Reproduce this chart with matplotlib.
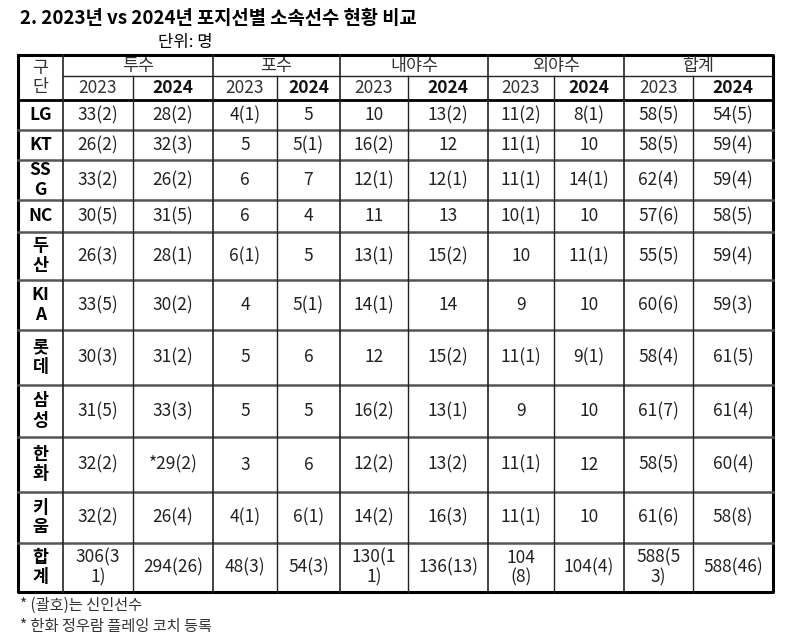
import matplotlib
matplotlib.use("Agg")
import matplotlib.pyplot as plt

plt.rcParams['font.family'] = ['Noto Sans CJK KR', 'DejaVu Sans']

title = "2. 2023년 vs 2024년 포지선별 소속선수 현황 비교"
unit = "단위: 명"
positions = ["투수", "포수", "내야수", "외야수", "합계"]
years = ["2023", "2024"]
teams = ["LG", "KT", "SS\nG", "NC", "두\n산", "KI\nA", "롯\n데", "삼\n성", "한\n화", "키\n움", "합\n계"]
values = [
    ["33(2)", "28(2)", "4(1)", "5", "10", "13(2)", "11(2)", "8(1)", "58(5)", "54(5)"],
    ["26(2)", "32(3)", "5", "5(1)", "16(2)", "12", "11(1)", "10", "58(5)", "59(4)"],
    ["33(2)", "26(2)", "6", "7", "12(1)", "12(1)", "11(1)", "14(1)", "62(4)", "59(4)"],
    ["30(5)", "31(5)", "6", "4", "11", "13", "10(1)", "10", "57(6)", "58(5)"],
    ["26(3)", "28(1)", "6(1)", "5", "13(1)", "15(2)", "10", "11(1)", "55(5)", "59(4)"],
    ["33(5)", "30(2)", "4", "5(1)", "14(1)", "14", "9", "10", "60(6)", "59(3)"],
    ["30(3)", "31(2)", "5", "6", "12", "15(2)", "11(1)", "9(1)", "58(4)", "61(5)"],
    ["31(5)", "33(3)", "5", "5", "16(2)", "13(1)", "9", "10", "61(7)", "61(4)"],
    ["32(2)", "*29(2)", "3", "6", "12(2)", "13(2)", "11(1)", "12", "58(5)", "60(4)"],
    ["32(2)", "26(4)", "4(1)", "6(1)", "14(2)", "16(3)", "11(1)", "10", "61(6)", "58(8)"],
    ["306(3\n1)", "294(26)", "48(3)", "54(3)", "130(1\n1)", "136(13)", "104\n(8)", "104(4)", "588(5\n3)", "588(46)"],
]
notes = ["* (괄호)는 신인선수", "* 한화 정우람 플레잉 코치 등록"]

W, H = 800, 642
fig = plt.figure(figsize=(8, 6.42), dpi=100)
ax = fig.add_axes([0, 0, 1, 1])
ax.set_xlim(0, W); ax.set_ylim(H, 0); ax.axis('off')

xs = [18, 63, 133, 213, 277, 340, 408, 488, 554, 624, 693, 773]
ys = [55, 76, 100, 130, 160, 200, 232, 280, 330, 385, 437, 492, 543, 592]
fs = 12.5

ax.text(20, 18, title, fontsize=13.5, fontweight='bold', va='center', ha='left')
ax.text(158, 42, unit, fontsize=12, va='center', ha='left')

lc = '#222222'
ax.plot([xs[0], xs[-1], xs[-1], xs[0], xs[0]], [ys[0], ys[0], ys[-1], ys[-1], ys[0]], color='black', lw=2.2)
ax.plot([xs[1], xs[-1]], [ys[1], ys[1]], color=lc, lw=1.0)
ax.plot([xs[0], xs[-1]], [ys[2], ys[2]], color='black', lw=2.0)
for y in ys[3:-1]:
    ax.plot([xs[0], xs[-1]], [y, y], color='#555555', lw=1.8)
for i, x in enumerate(xs[1:-1], start=1):
    if i % 2 == 1:
        ax.plot([x, x], [ys[0], ys[-1]], color=lc, lw=1.2)
    else:
        ax.plot([x, x], [ys[1], ys[-1]], color=lc, lw=1.0)

ax.text((xs[0]+xs[1])/2, (ys[0]+ys[2])/2, "구\n단", fontsize=fs, ha='center', va='center', linespacing=1.1, color='#333333')
for k, p in enumerate(positions):
    ax.text((xs[1+2*k]+xs[3+2*k])/2, (ys[0]+ys[1])/2, p, fontsize=fs, ha='center', va='center', color='#333333')
    for j, yr in enumerate(years):
        ax.text((xs[1+2*k+j]+xs[2+2*k+j])/2, (ys[1]+ys[2])/2, yr, fontsize=fs, ha='center', va='center',
                fontweight='bold' if j == 1 else 'normal', color='#111111' if j else '#333333')

for r, (t, row) in enumerate(zip(teams, values)):
    yc = (ys[2+r]+ys[3+r])/2
    ax.text((xs[0]+xs[1])/2, yc, t, fontsize=fs, ha='center', va='center', fontweight='bold', linespacing=1.1)
    for c, v in enumerate(row):
        ax.text((xs[1+c]+xs[2+c])/2, yc, v, fontsize=fs, ha='center', va='center', linespacing=1.1, color='#222222')

ax.text(20, 605, notes[0], fontsize=11, ha='left', va='center', color='#333333')
ax.text(20, 626, notes[1], fontsize=11, ha='left', va='center', color='#333333')

fig.savefig("out.png", dpi=100, facecolor='white')
